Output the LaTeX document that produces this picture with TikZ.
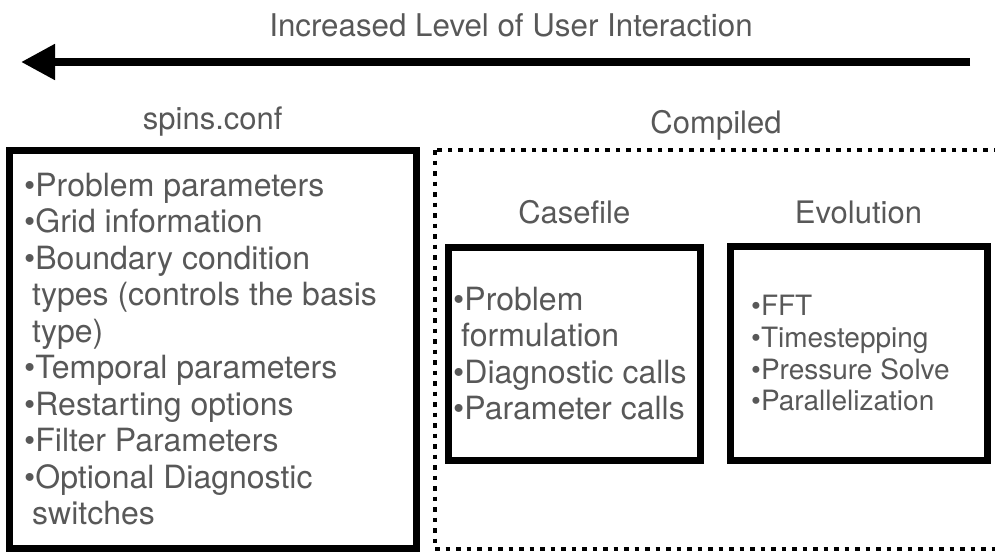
\documentclass[tikz,border=0pt]{standalone}
\usepackage{fontspec}
\setmainfont{TeX Gyre Heros}
\usetikzlibrary{arrows.meta, positioning}
\definecolor{txtgray}{RGB}{88,88,88}

\begin{document}
\begin{tikzpicture}[
    x=1pt, y=-1pt,
    every node/.style={text=txtgray, inner sep=0pt},
    box/.style={draw, line width=7pt},
    zone/.style={draw, line width=4.5pt, dash pattern=on 4.5pt off 6pt},
    head/.style={font=\fontsize{31}{36}\selectfont, anchor=base},
    items/.style={font=\fontsize{32}{36.5}\selectfont, align=left},
]
\useasboundingbox (0,0) rectangle (995,552);

    \node[head, font=\fontsize{31.3}{36}\selectfont] (title) at (511,36) {Increased Level of User Interaction};
    \coordinate (from) at (970,62);
    \coordinate (tip) at (21,62);
    \draw[line width=8pt, -{Triangle[length=34pt, width=34pt]}] (from) -- (tip);

    \node[box, minimum width=406.5pt, minimum height=398.5pt] (conf) at (212.75,349.25) {};
    \node[head] (confhead) at ([yshift=17pt]conf.north) {spins.conf};
    \node[items, right=18pt of conf.west] (conflist) {%
        •Problem parameters\\
        •Grid information\\
        •Boundary condition\\
        \hspace*{8pt}types (controls the basis\\
        \hspace*{8pt}type)\\
        •Temporal parameters\\
        •Restarting options\\
        •Filter Parameters\\
        •Optional Diagnostic\\
        \hspace*{8pt}switches};

    \draw[zone] (435,150) rectangle (1000,549);
    \node[head] (comphead) at (716,133) {Compiled};

    \node[box, minimum width=251.5pt, minimum height=213pt] (case) at (574.25,353.5) {};
    \node[head] (casehead) at ([yshift=20pt]case.north) {Casefile};
    \node[items, right=8pt of case.west] (caselist) {%
        •Problem\\
        \hspace*{8pt}formulation\\
        •Diagnostic calls\\
        •Parameter calls};

    \node[box, minimum width=257pt, minimum height=213.5pt] (evol) at (858.5,353.25) {};
    \node[head] (evolhead) at ([yshift=19.5pt]evol.north) {Evolution};
    \node[items, font=\fontsize{28}{31.7}\selectfont, right=24.5pt of evol.west] (evollist) {%
        •FFT\\
        •Timestepping\\
        •Pressure Solve\\
        •Parallelization};

\end{tikzpicture}
\end{document}
